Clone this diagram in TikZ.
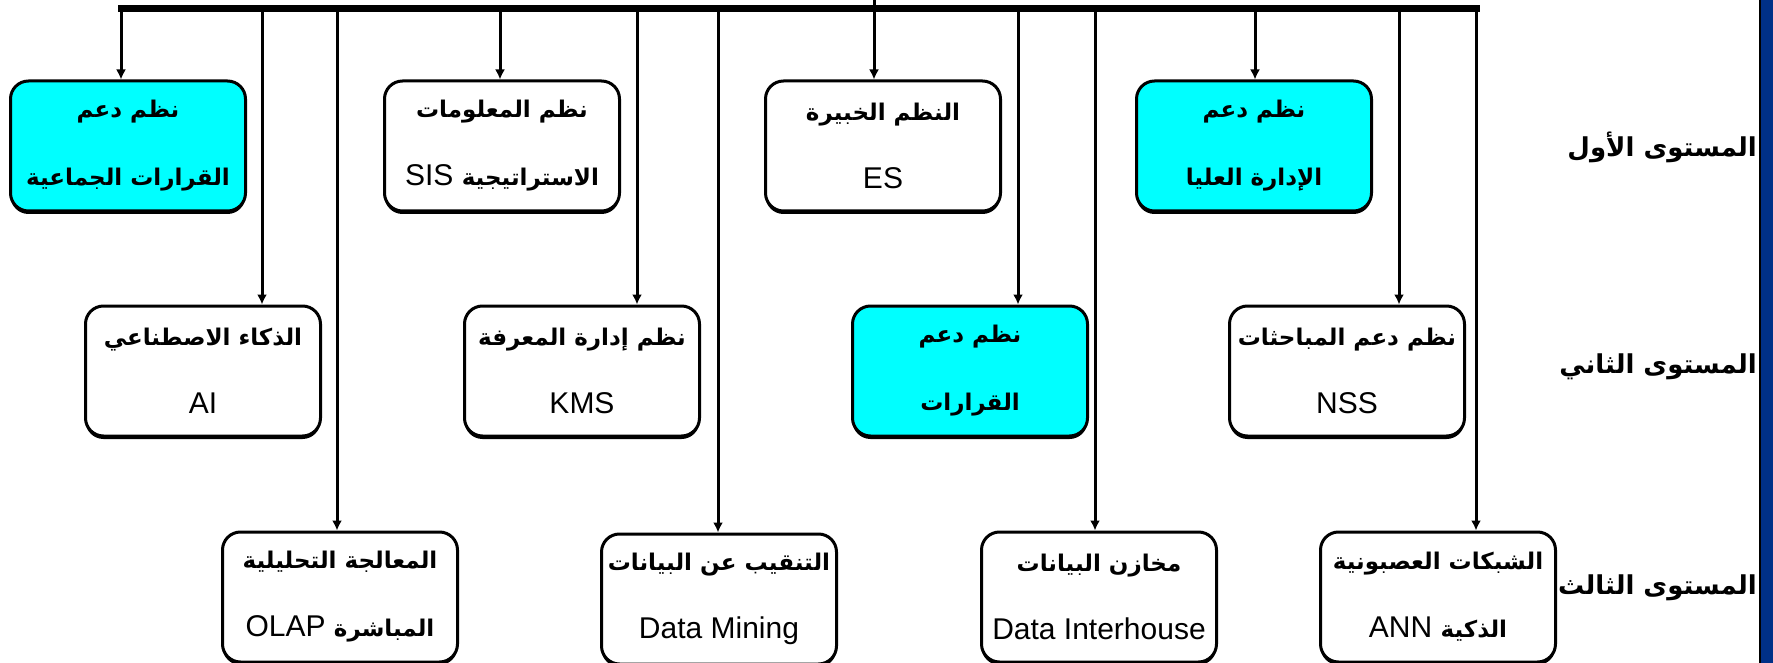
\documentclass[tikz,border=0pt]{standalone}
\usepackage{fontspec}
\setmainfont{Liberation Sans}
\newfontfamily\arabicfont[Script=Arabic]{DejaVu Sans}
\TeXXeTstate=1
\usetikzlibrary{arrows.meta,shadows}
\newcommand{\ar}[2][23pt]{{\arabicfont\bfseries\fontsize{#1}{68pt}\selectfont\beginR #2\endR}}
\definecolor{boxcyan}{RGB}{0,255,255}
\definecolor{slideblue}{RGB}{0,48,135}

\begin{document}
\begin{tikzpicture}[x=1pt,y=-1pt,
  sys/.style={draw,line width=3pt,rounded corners=18pt,fill=white,
    minimum width=235pt,minimum height=130pt,inner sep=1pt,align=center,
    font=\fontsize{30pt}{68pt}\selectfont,
    drop shadow={shadow xshift=0pt,shadow yshift=-3pt,fill=black,opacity=1}},
  hot/.style={sys,fill=boxcyan},
  link/.style={line width=3pt,-{Latex[length=10pt,width=10pt]}},
  lvl/.style={anchor=east,inner sep=0pt}]
\useasboundingbox (0,0) rectangle (1773,663);

% slide edge
\fill[slideblue] (1760,0) rectangle (1773,663);
\draw[line width=1.5pt] (1760,0) -- (1760,663);

% level one
\node[hot] (gdss) at (128,146) {\ar{نظم دعم}\\\ar{القرارات الجماعية}};
\node[sys] (sis) at (502,146) {\ar{نظم المعلومات}\\SIS \ar{الاستراتيجية}};
\node[sys] (es) at (883,146) {\ar{النظم الخبيرة}\\ES};
\node[hot] (topm) at (1254,146) {\ar{نظم دعم}\\\ar{الإدارة العليا}};

% level two
\node[sys] (ai) at (203,371) {\ar{الذكاء الاصطناعي}\\AI};
\node[sys] (kms) at (582,371) {\ar{نظم إدارة المعرفة}\\KMS};
\node[hot] (dss) at (970,371) {\ar{نظم دعم}\\\ar{القرارات}};
\node[sys] (nss) at (1347,371) {\ar{نظم دعم المباحثات}\\NSS};

% level three
\node[sys] (olap) at (340,597) {\ar{المعالجة التحليلية}\\OLAP \ar{المباشرة}};
\node[sys] (dm) at (719,599) {\ar{التنقيب عن البيانات}\\Data Mining};
\node[sys] (dih) at (1099,597) {\ar{مخازن البيانات}\\Data Interhouse};
\node[sys] (ann) at (1438,597) {\ar{الشبكات العصبونية}\\ANN \ar{الذكية}};

% levels
\node[lvl] (lv1) at (1757,147) {\ar[26pt]{المستوى الأول}};
\node[lvl] (lv2) at (1757,367) {\ar[26pt]{المستوى الثاني}};
\node[lvl] (lv3) at (1757,588) {\ar[26pt]{المستوى الثالث}};

% bus
\coordinate (in) at (874,0);
\coordinate (bl) at (121,9);
\coordinate (br) at (1476,9);
\draw[line width=7pt,line cap=rect] (bl) -- (br);
\draw[line width=3pt] (in) -- (in |- bl);
\foreach \x/\n in {121/gdss,500/sis,874/es,1255/topm,262/ai,637/kms,1018/dss,1399/nss,337/olap,718/dm,1095/dih,1476/ann}{
  \coordinate (b-\n) at (\x,9);
  \draw[link] (b-\n) -- (b-\n |- \n.north);
}
\end{tikzpicture}
\end{document}
